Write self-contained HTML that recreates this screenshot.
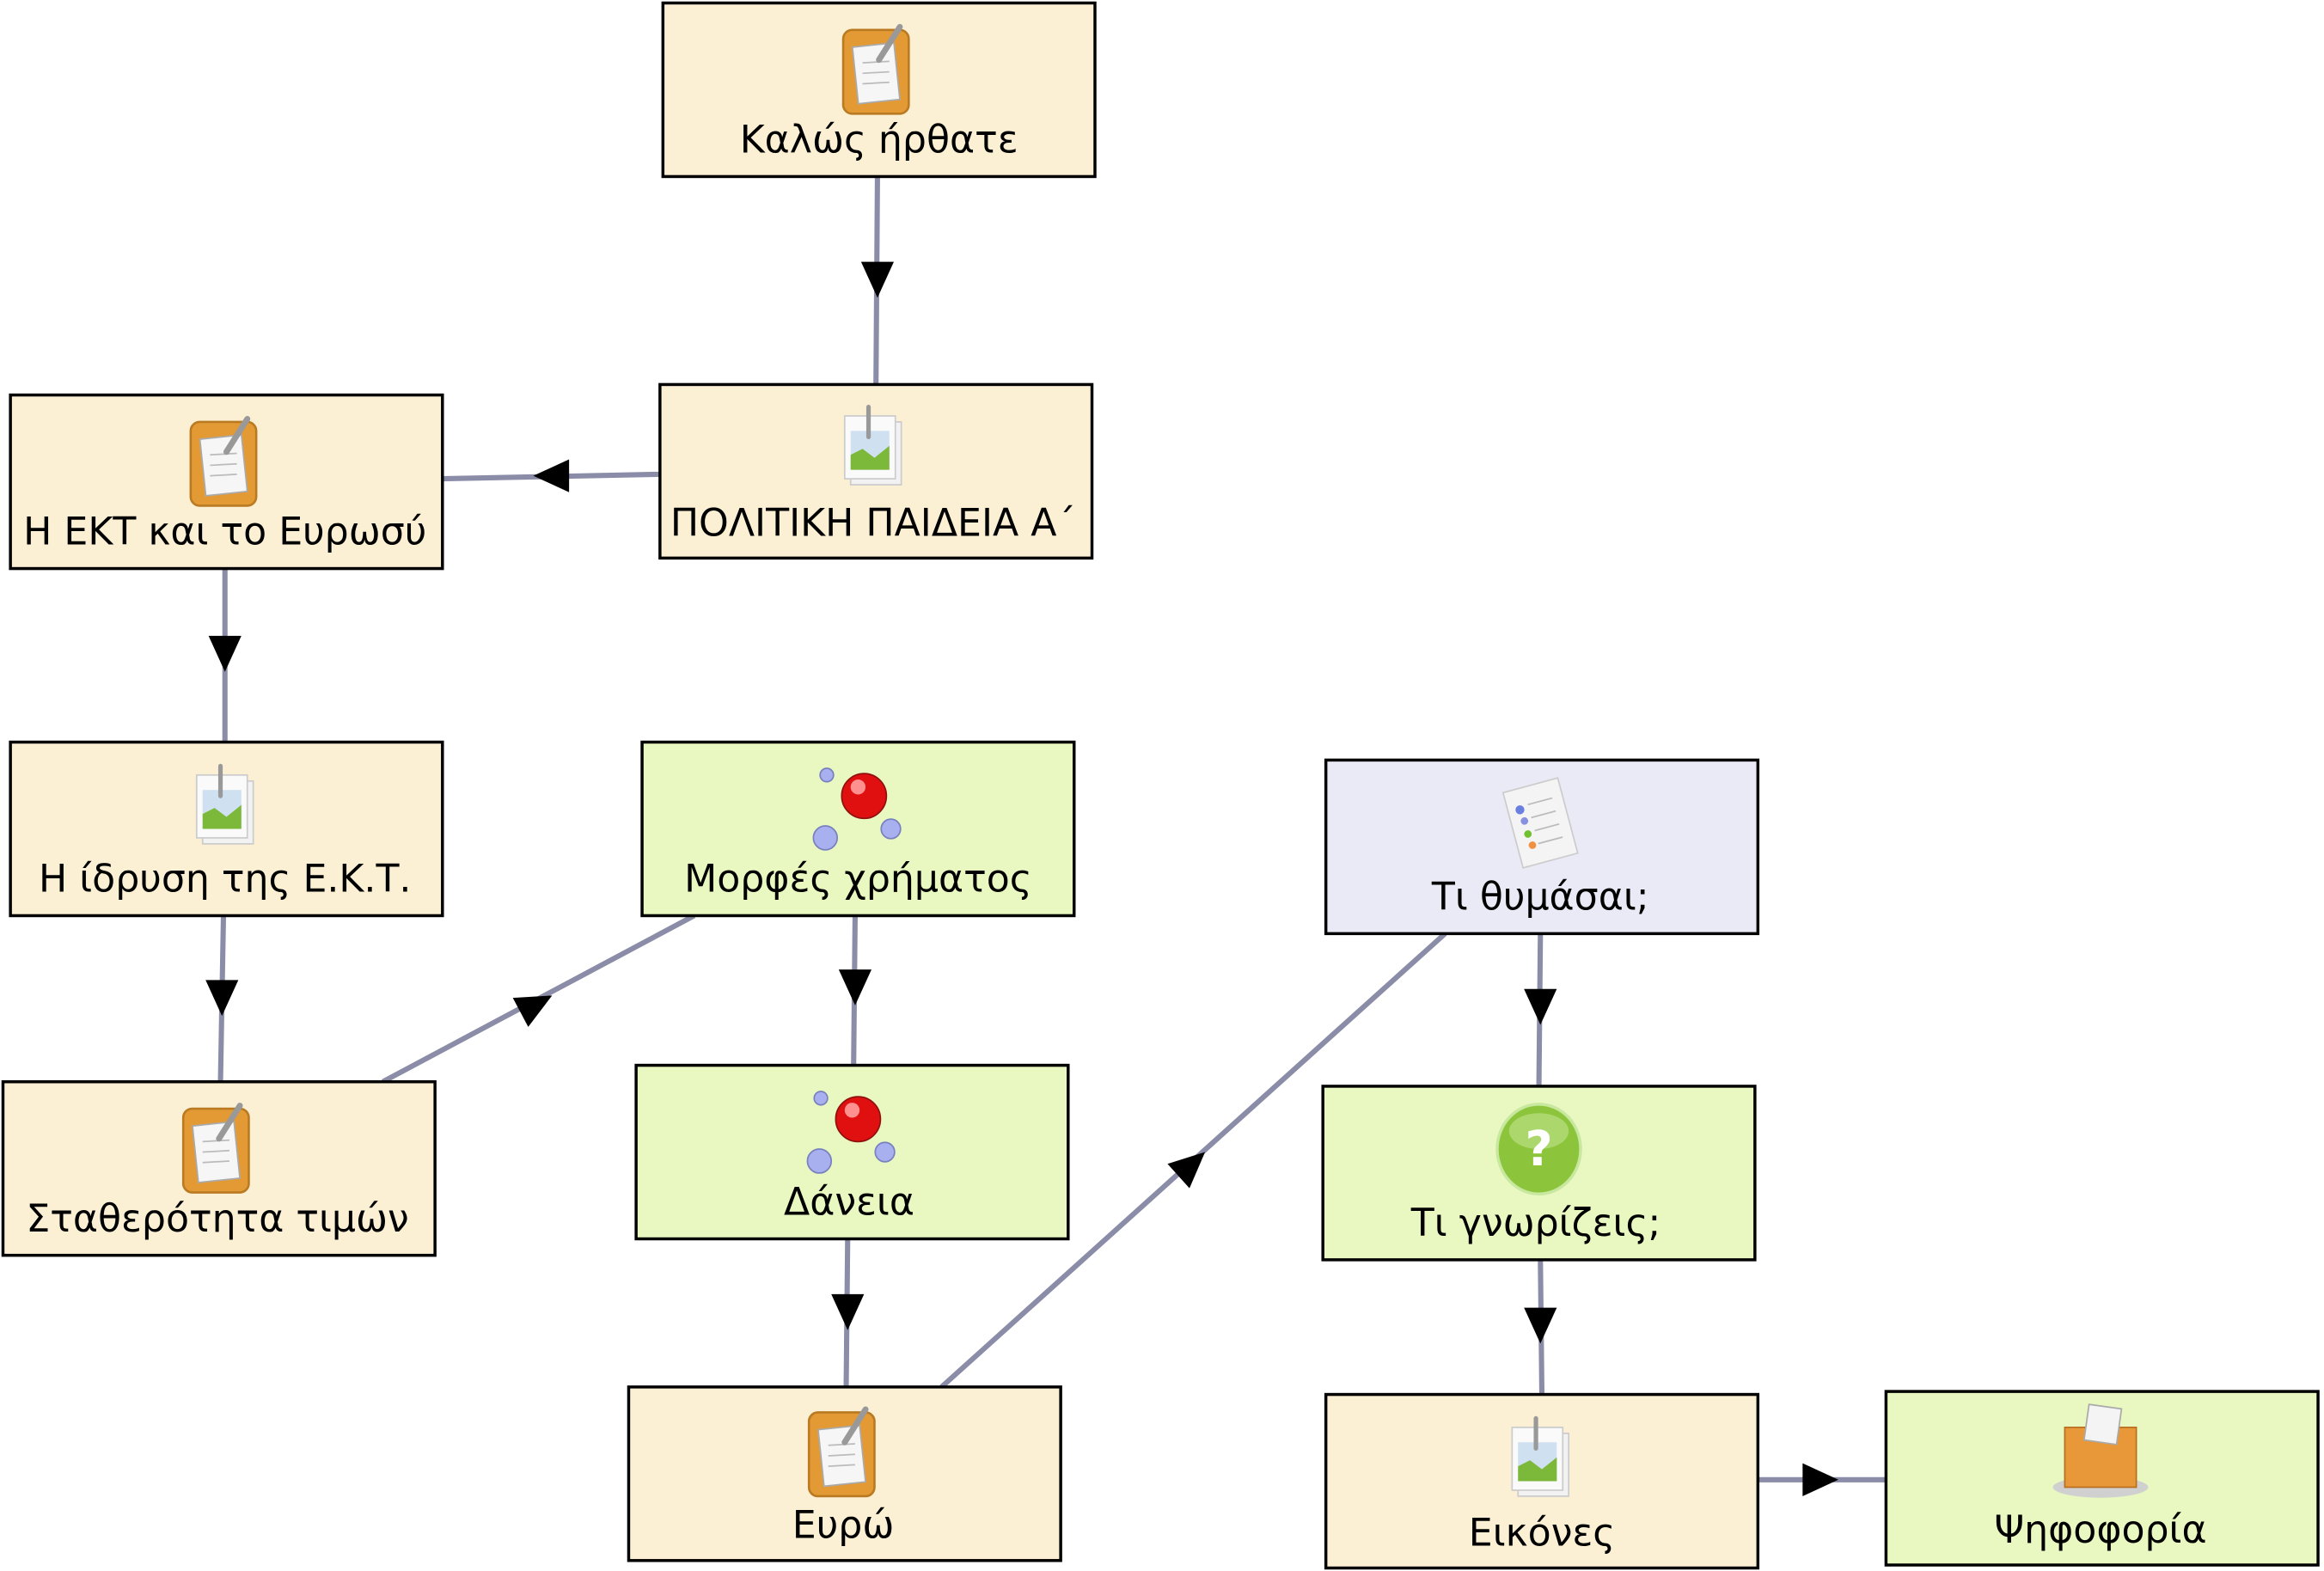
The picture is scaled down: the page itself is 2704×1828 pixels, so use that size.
<!DOCTYPE html>
<html><head><meta charset="utf-8"><style>
html,body{margin:0;padding:0;background:#fff;}
svg{display:block;}
text{font-family:"DejaVu Sans","Liberation Sans",sans-serif;font-size:25.5px;fill:#000;text-anchor:middle;}
</style></head><body>
<svg width="2704" height="1828" viewBox="0 0 1560 1050" preserveAspectRatio="none" xmlns="http://www.w3.org/2000/svg">
<defs>
<g id="note">
 <rect x="-22" y="-28" width="44" height="56" rx="6" fill="#e39a34" stroke="#b97a22" stroke-width="1.5"/>
 <rect x="-14" y="-18" width="28" height="38" fill="#f6f6f6" stroke="#aaa" stroke-width="1" transform="rotate(-6)"/>
 <line x1="-9" y1="-6" x2="9" y2="-7" stroke="#bbb"/><line x1="-9" y1="1" x2="9" y2="0" stroke="#bbb"/><line x1="-9" y1="8" x2="9" y2="7" stroke="#bbb"/>
 <line x1="2" y1="-8" x2="16" y2="-30" stroke="#999" stroke-width="4" stroke-linecap="round"/>
</g>
<g id="pic">
 <rect x="-16" y="-20" width="34" height="42" fill="#f2f2f2" stroke="#ccc"/>
 <rect x="-20" y="-24" width="34" height="42" fill="#fafafa" stroke="#ccc"/>
 <rect x="-16" y="-14" width="26" height="26" fill="#cfe0f0"/>
 <path d="M-16 12 L-16 2 L-8 -2 L0 4 L10 -4 L10 12 Z" fill="#7cb83a"/>
 <line x1="-4" y1="-30" x2="-4" y2="-10" stroke="#999" stroke-width="3" stroke-linecap="round"/>
</g>
<g id="mol">
 <circle cx="-25" cy="-26" r="4.5" fill="#a8b0f0" stroke="#7880c0"/>
 <circle cx="0" cy="-12" r="15" fill="#e01010" stroke="#901010"/>
 <circle cx="-4" cy="-18" r="5" fill="#ff9090"/>
 <circle cx="-26" cy="16" r="8" fill="#a8b0f0" stroke="#7880c0"/>
 <circle cx="18" cy="10" r="6.5" fill="#a8b0f0" stroke="#7880c0"/>
</g>
<g id="arrow"><polygon points="-11,-12 11,-12 0,12" fill="#000"/></g>
</defs>

<g stroke="#8a8ca8" stroke-width="3.5" fill="none">
<line x1="589" y1="118" x2="588" y2="257"/>
<line x1="443" y1="317" x2="297" y2="320"/>
<line x1="151" y1="380" x2="151" y2="496"/>
<line x1="150" y1="612" x2="148" y2="723"/>
<line x1="257" y1="723" x2="466" y2="612"/>
<line x1="574" y1="612" x2="573" y2="712"/>
<line x1="569" y1="828" x2="568" y2="927"/>
<line x1="632" y1="927" x2="970" y2="624"/>
<line x1="1034" y1="624" x2="1033" y2="726"/>
<line x1="1034" y1="842" x2="1035" y2="932"/>
<line x1="1180" y1="989" x2="1266" y2="989"/>
</g>
<use href="#arrow" transform="translate(589,187)"/>
<use href="#arrow" transform="translate(370,318) rotate(90)"/>
<use href="#arrow" transform="translate(151,437)"/>
<use href="#arrow" transform="translate(149,667)"/>
<use href="#arrow" transform="translate(360,671) rotate(-118)"/>
<use href="#arrow" transform="translate(574,660)"/>
<use href="#arrow" transform="translate(569,877)"/>
<use href="#arrow" transform="translate(800,778) rotate(-132)"/>
<use href="#arrow" transform="translate(1034,673)"/>
<use href="#arrow" transform="translate(1034,886)"/>
<use href="#arrow" transform="translate(1222,989) rotate(-90)"/>

<g stroke="#000" stroke-width="2">
<rect x="445" y="2" width="290" height="116" fill="#fcf0d4"/>
<rect x="443" y="257" width="290" height="116" fill="#fcf0d4"/>
<rect x="7" y="264" width="290" height="116" fill="#fcf0d4"/>
<rect x="7" y="496" width="290" height="116" fill="#fcf0d4"/>
<rect x="2" y="723" width="290" height="116" fill="#fcf0d4"/>
<rect x="431" y="496" width="290" height="116" fill="#e8f8c0"/>
<rect x="427" y="712" width="290" height="116" fill="#e8f8c0"/>
<rect x="422" y="927" width="290" height="116" fill="#fcf0d4"/>
<rect x="890" y="508" width="290" height="116" fill="#eaeaf6"/>
<rect x="888" y="726" width="290" height="116" fill="#e8f8c0"/>
<rect x="890" y="932" width="290" height="116" fill="#fcf0d4"/>
<rect x="1266" y="930" width="290" height="116" fill="#e8f8c0"/>
</g>

<use href="#note" transform="translate(588,48)"/>
<use href="#pic" transform="translate(587,302)"/>
<use href="#note" transform="translate(150,310)"/>
<use href="#pic" transform="translate(152,542)"/>
<use href="#note" transform="translate(145,769)"/>
<use href="#mol" transform="translate(580,544)"/>
<use href="#mol" transform="translate(576,760)"/>
<use href="#note" transform="translate(565,972)"/>
<use href="#pic" transform="translate(1035,978)"/>
<g transform="translate(1034,550) rotate(-15)">
 <rect x="-19" y="-26" width="38" height="52" fill="#f4f4f4" stroke="#ccc"/>
 <circle cx="-11" cy="-12" r="3" fill="#6a80e0"/><circle cx="-10" cy="-4" r="2.5" fill="#8890e0"/>
 <circle cx="-10" cy="5" r="2.5" fill="#70c030"/><circle cx="-9" cy="13" r="2.5" fill="#f09040"/>
 <line x1="-5" y1="-14" x2="12" y2="-14" stroke="#bbb"/><line x1="-5" y1="-5" x2="12" y2="-5" stroke="#bbb"/>
 <line x1="-5" y1="4" x2="12" y2="4" stroke="#bbb"/><line x1="-5" y1="13" x2="12" y2="13" stroke="#bbb"/>
</g>
<g transform="translate(1033,768)">
 <ellipse cx="0" cy="0" rx="28" ry="30" fill="#8cc43c" stroke="#c8e8a0" stroke-width="2"/>
 <ellipse cx="0" cy="-12" rx="20" ry="12" fill="#b8e080" opacity="0.7"/>
 <text x="0" y="11" style="font-size:32px;fill:#fff;font-weight:bold">?</text>
</g>
<g transform="translate(1410,970)">
 <ellipse cx="0" cy="24" rx="32" ry="7" fill="#d0d0d0"/>
 <rect x="-24" y="-16" width="48" height="40" fill="#e89838" stroke="#b87020"/>
 <rect x="-12" y="-30" width="22" height="24" fill="#f4f4f4" stroke="#aaa" transform="rotate(8)"/>
</g>

<text x="590" y="102">Καλώς ήρθατε</text>
<text x="586" y="358">ΠΟΛΙΤΙΚΗ ΠΑΙΔΕΙΑ Α΄</text>
<text x="151" y="364">Η ΕΚΤ και το Ευρωσύ</text>
<text x="151" y="596">Η ίδρυση της Ε.Κ.Τ.</text>
<text x="146" y="823">Σταθερότητα τιμών</text>
<text x="576" y="596">Μορφές χρήματος</text>
<text x="570" y="812">Δάνεια</text>
<text x="566" y="1028">Ευρώ</text>
<text x="1034" y="608">Τι θυμάσαι;</text>
<text x="1031" y="826">Τι γνωρίζεις;</text>
<text x="1035" y="1033">Εικόνες</text>
<text x="1410" y="1031">Ψηφοφορία</text>
</svg>
</body></html>
